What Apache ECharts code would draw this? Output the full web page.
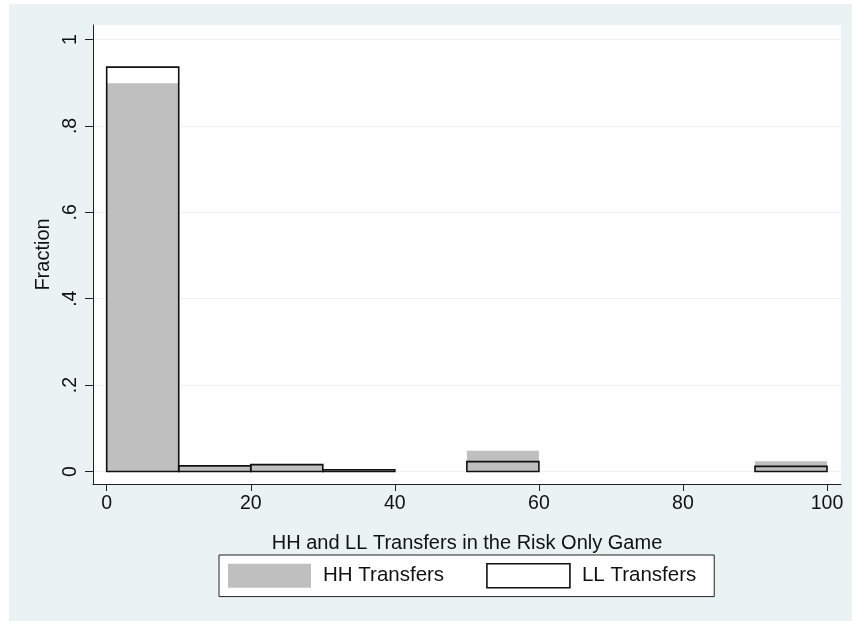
<!DOCTYPE html>
<html>
<head>
<meta charset="utf-8">
<script src="https://cdn.jsdelivr.net/npm/echarts@6/dist/echarts.min.js"></script>
<style>
  html, body { margin: 0; padding: 0; background: #ffffff; }
  #chart { width: 852px; height: 621px; }
</style>
</head>
<body>
<div id="chart"></div>
<script>
// Histogram bins (lower edge of each bin, width 10)
const binLow = [0, 10, 20, 30, 50, 90];
const binWidth = 10;
// Fraction of observations in each bin
const hhFraction = [0.899, 0.012, 0.015, 0, 0.048, 0.024];
const llFraction = [0.936, 0.013, 0.016, 0.004, 0.023, 0.012];
// Axis ticks
const xTicks = [0, 20, 40, 60, 80, 100];
const yTicks = [0, 0.2, 0.4, 0.6, 0.8, 1];

const FONT = 'Liberation Sans';

function toBins(values) {
  return binLow
    .map((lo, i) => [lo, lo + binWidth, values[i]])
    .filter(d => d[2] > 0);
}

function barRenderer(style) {
  return function (params, api) {
    const p0 = api.coord([api.value(0), api.value(2)]);
    const p1 = api.coord([api.value(1), 0]);
    return {
      type: 'rect',
      shape: { x: p0[0], y: p0[1], width: p1[0] - p0[0], height: p1[1] - p0[1] },
      style: style
    };
  };
}

const chart = echarts.init(document.getElementById('chart'), null, { renderer: 'canvas' });

chart.setOption({
  backgroundColor: 'transparent',
  animation: false,
  graphic: [{
    type: 'rect',
    z: -10,
    silent: true,
    shape: { x: 9, y: 4, width: 843, height: 617 },
    style: { fill: '#eaf2f3' }
  }],
  grid: {
    left: 93, right: 11, top: 25, bottom: 137,
    show: true, backgroundColor: '#ffffff', borderWidth: 0
  },
  xAxis: {
    type: 'value',
    min: -1.9, max: 101.94,
    name: 'HH and LL Transfers in the Risk Only Game',
    nameLocation: 'middle',
    nameGap: 49,
    nameTextStyle: { fontFamily: FONT, fontSize: 20, color: '#111' },
    axisLine: { show: true, onZero: false, lineStyle: { color: '#222', width: 1 } },
    axisTick: { show: true, customValues: xTicks, length: 7, lineStyle: { color: '#222' } },
    axisLabel: { customValues: xTicks, margin: 10, fontFamily: FONT, fontSize: 19.5, color: '#111' },
    splitLine: { show: false }
  },
  yAxis: {
    type: 'value',
    min: -0.0289, max: 1.0336,
    name: 'Fraction',
    nameLocation: 'middle',
    nameGap: 36,
    nameTextStyle: { fontFamily: FONT, fontSize: 20, color: '#111' },
    axisLine: { show: true, onZero: false, lineStyle: { color: '#222', width: 1 } },
    axisTick: { show: true, customValues: yTicks, length: 8, lineStyle: { color: '#222' } },
    axisLabel: {
      customValues: yTicks,
      rotate: 90,
      margin: 12,
      fontFamily: FONT, fontSize: 19.5, color: '#111',
      formatter: v => (v === 0 || v === 1) ? String(v) : String(v).replace(/^0/, '')
    },
    splitLine: { show: true, lineStyle: { color: '#eaf2f3', width: 1 } }
  },
  legend: {
    left: 219, top: 555,
    orient: 'horizontal',
    padding: [8, 18, 8, 9],
    itemGap: 42,
    itemWidth: 83, itemHeight: 24,
    backgroundColor: '#ffffff',
    borderColor: '#222', borderWidth: 1,
    textStyle: { fontFamily: FONT, fontSize: 20.5, color: '#111', width: 125, padding: [0, 0, 0, 7] },
    data: [
      { name: 'HH Transfers', icon: 'rect', itemStyle: { color: '#bfbfbf', borderWidth: 0 } },
      { name: 'LL Transfers', icon: 'rect', itemStyle: { color: '#ffffff', borderColor: '#111', borderWidth: 1.6 } }
    ]
  },
  series: [
    {
      name: 'HH Transfers',
      type: 'custom',
      renderItem: barRenderer({ fill: '#bfbfbf' }),
      itemStyle: { color: '#bfbfbf' },
      encode: { x: [0, 1], y: 2 },
      data: toBins(hhFraction),
      z: 2
    },
    {
      name: 'LL Transfers',
      type: 'custom',
      renderItem: barRenderer({ fill: 'none', stroke: '#111', lineWidth: 1.6 }),
      itemStyle: { color: '#ffffff' },
      encode: { x: [0, 1], y: 2 },
      data: toBins(llFraction),
      z: 3
    }
  ]
});
</script>
</body>
</html>
